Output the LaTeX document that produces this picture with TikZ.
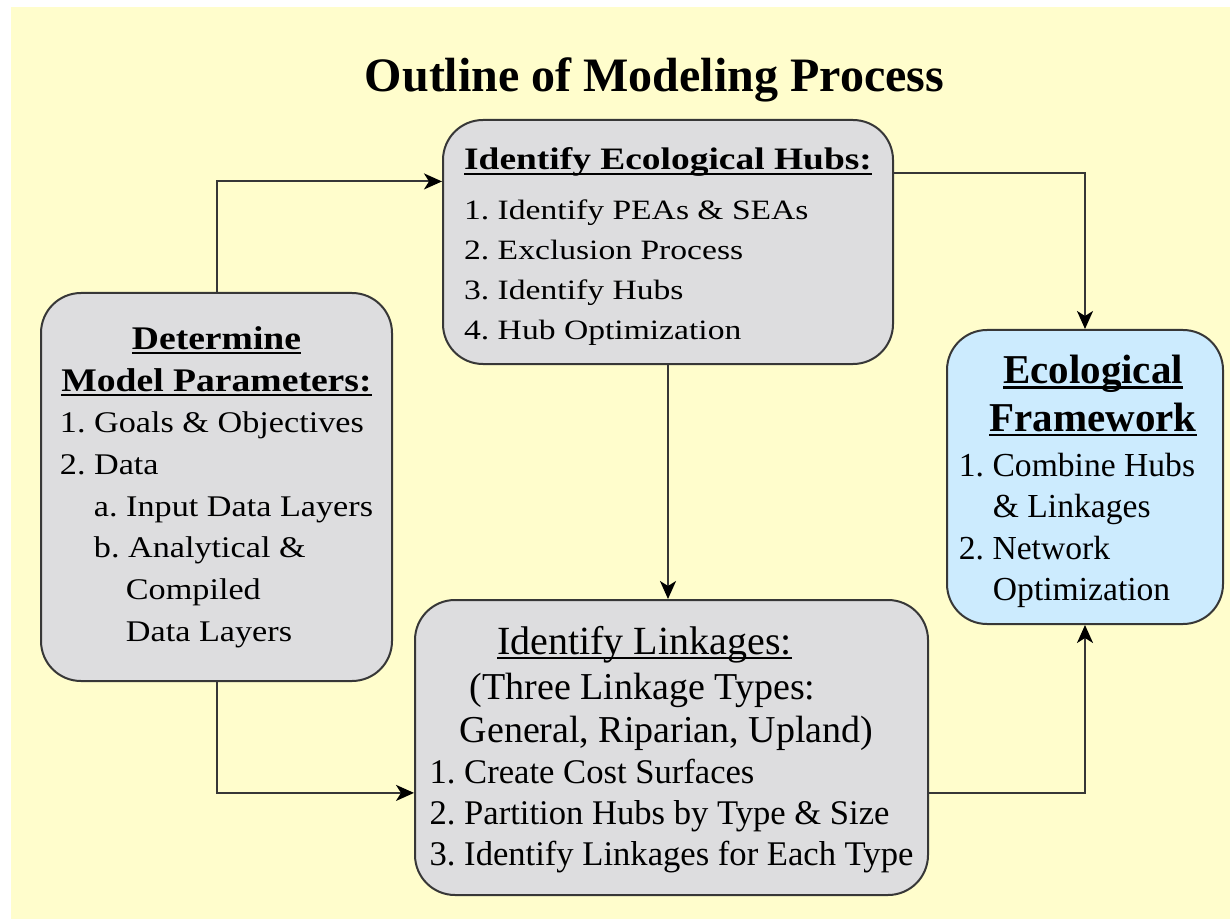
\documentclass[tikz,border=0pt]{standalone}
\usepackage{fontspec}
\setmainfont{Liberation Serif}
\newfontfamily\hubfont{Liberation Serif}[FakeStretch=1.2]
\newfontfamily\parfont{Liberation Serif}[FakeStretch=1.14]
\usetikzlibrary{arrows.meta}

\definecolor{bgyellow}{RGB}{255,253,204}
\definecolor{boxgray}{RGB}{221,221,223}
\definecolor{boxblue}{RGB}{204,235,254}
\definecolor{edge}{RGB}{55,55,55}

% heading with a heavy underline
\newsavebox\headbox
\newcommand\uhead[1]{\leavevmode\sbox\headbox{#1}\rlap{\usebox\headbox}\rule[-2.5pt]{\wd\headbox}{1.2pt}}
\newcommand\ctr[1]{\multicolumn{1}{@{}c@{}}{#1}}
\frenchspacing

\tikzset{
  box/.style={draw=edge, line width=1pt, rounded corners=20pt, fill=boxgray, inner sep=0pt},
  flow/.style={draw=edge, line width=1pt, -{Stealth[length=9pt,width=8pt,inset=2.5pt,color=black]}},
}

\begin{document}
\begin{tikzpicture}[x=0.5pt,y=-0.5pt]
\useasboundingbox (0,0) rectangle (1230,919);
\fill[bgyellow] (11,7) rectangle (1230,919);

\node[font=\fontsize{24}{28}\selectfont\bfseries, anchor=base] (title) at (654.5,92) {Outline of Modeling Process};

% the four stages
\node[box, minimum width=175.5pt, minimum height=194pt,
      font=\parfont\fontsize{15}{20.85}\selectfont] (params) at (216.5,487) {%
  \begin{tabular}{@{}l@{}}
  \ctr{\fontsize{16.5}{20}\selectfont\bfseries\uhead{Determine}}\\
  \ctr{\fontsize{16.5}{20}\selectfont\bfseries\uhead{Model Parameters:}}\\
  1. Goals \& Objectives\\
  2. Data\\
  \hspace*{17pt}a. Input Data Layers\\
  \hspace*{17pt}b. Analytical \&\\
  \hspace*{33pt}Compiled\\
  \hspace*{33pt}Data Layers
  \end{tabular}};

\node[box, minimum width=225pt, minimum height=122pt,
      font=\hubfont\fontsize{14}{20}\selectfont] (hubs) at (668,242) {%
  \begin{tabular}{@{}l@{}}
  {\fontsize{15.6}{20}\selectfont\bfseries\uhead{Identify Ecological Hubs:}}\\[5pt]
  1. Identify PEAs \& SEAs\\
  2. Exclusion Process\\
  3. Identify Hubs\\
  4. Hub Optimization\\[-5pt]
  \end{tabular}};

\node[box, minimum width=256.5pt, minimum height=147.5pt,
      font=\fontsize{17.3}{20.5}\selectfont] (links) at (671.5,747.5) {%
  \begin{tabular}{@{}l@{}}
  \ctr{\fontsize{20}{22}\selectfont\uhead{Identify Linkages:}\hspace*{27pt}}\\[2pt]
  \ctr{\fontsize{19}{22}\selectfont(Three Linkage Types:\hspace*{29pt}}\\[1pt]
  \ctr{\fontsize{19}{22}\selectfont General, Riparian, Upland)\hspace*{5pt}}\\
  1. Create Cost Surfaces\\
  2. Partition Hubs by Type \& Size\\
  3. Identify Linkages for Each Type\\[-4pt]
  \end{tabular}};

\node[box, fill=boxblue, minimum width=138pt, minimum height=147pt,
      font=\fontsize{16.8}{20.7}\selectfont] (frame) at (1085,477) {%
  \begin{tabular}{@{}l@{\hspace{8pt}}}
  \ctr{\hspace*{8pt}\fontsize{20.5}{22}\selectfont\bfseries\uhead{Ecological}}\\[3pt]
  \ctr{\hspace*{8pt}\fontsize{20.5}{22}\selectfont\bfseries\uhead{Framework}}\\[2pt]
  1. Combine Hubs\\
  \hspace*{17pt}\& Linkages\\
  2. Network\\
  \hspace*{17pt}Optimization\\[-7pt]
  \end{tabular}};

% connectors
\draw[flow] (params.north) |- (hubs.165);
\draw[flow] (hubs.17) -| (frame.north);
\draw[flow] (hubs.south) -- (hubs.south |- links.north);
\draw[flow] (params.south) |- (links.190);
\draw[flow] (links.350) -| (frame.south);
\end{tikzpicture}
\end{document}
